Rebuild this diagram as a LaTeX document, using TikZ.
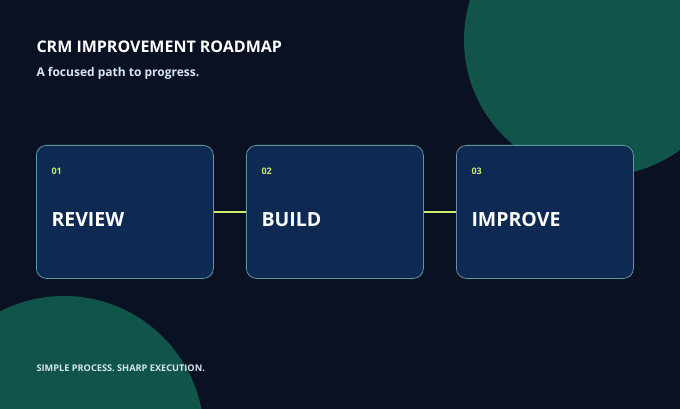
\documentclass[tikz,border=0pt]{standalone}
\usepackage{fontspec}
\setmainfont{Open Sans}
\definecolor{bg}{HTML}{0A1122}
\definecolor{blob}{HTML}{10544A}
\definecolor{card}{HTML}{0F2A52}
\definecolor{edge}{HTML}{5E97A0}
\definecolor{lime}{HTML}{C8EC6E}
\definecolor{sub}{HTML}{D6E6EE}
\begin{document}
\begin{tikzpicture}[x=1pt,y=-1pt,
  card/.style={draw=edge,line width=0.8pt,fill=card,rounded corners=10pt,minimum width=177pt,minimum height=133pt,anchor=north west,inner sep=0pt},
  num/.style={anchor=west,text=lime,font=\fontsize{9}{10}\selectfont\bfseries},
  steplabel/.style={anchor=west,text=white,font=\fontsize{19.5}{22}\selectfont\bfseries},
  link/.style={draw=lime,line width=2pt}]
\useasboundingbox (0,0) rectangle (680,409);
\fill[bg] (0,0) rectangle (680,409);
\begin{scope}
\clip (0,0) rectangle (680,409);
\fill[blob] (600,40) circle (136);
\fill[blob] (64,436) circle (140);
\end{scope}
\node[anchor=west,text=white,font=\fontsize{16}{18}\selectfont\bfseries] (title) at (33,47) {CRM IMPROVEMENT ROADMAP};
\node[anchor=west,text=sub,font=\fontsize{12}{14}\selectfont\bfseries] (subt) at (33,73) {A focused path to progress.};
\node[card] (c1) at (36,145) {};
\node[card] (c2) at (246,145) {};
\node[card] (c3) at (456,145) {};
\draw[link] (c1.east) -- (c2.west);
\draw[link] (c2.east) -- (c3.west);
\node[num] (n1) at (48,171) {01};
\node[num] (n2) at (258,171) {02};
\node[num] (n3) at (468,171) {03};
\node[steplabel] (s1) at (48,220) {REVIEW};
\node[steplabel] (s2) at (258,220) {BUILD};
\node[steplabel] (s3) at (468,220) {IMPROVE};
\node[anchor=west,text=sub,font=\fontsize{9.2}{10}\selectfont\bfseries] (foot) at (33,368) {SIMPLE PROCESS. SHARP EXECUTION.};
\end{tikzpicture}
\end{document}
